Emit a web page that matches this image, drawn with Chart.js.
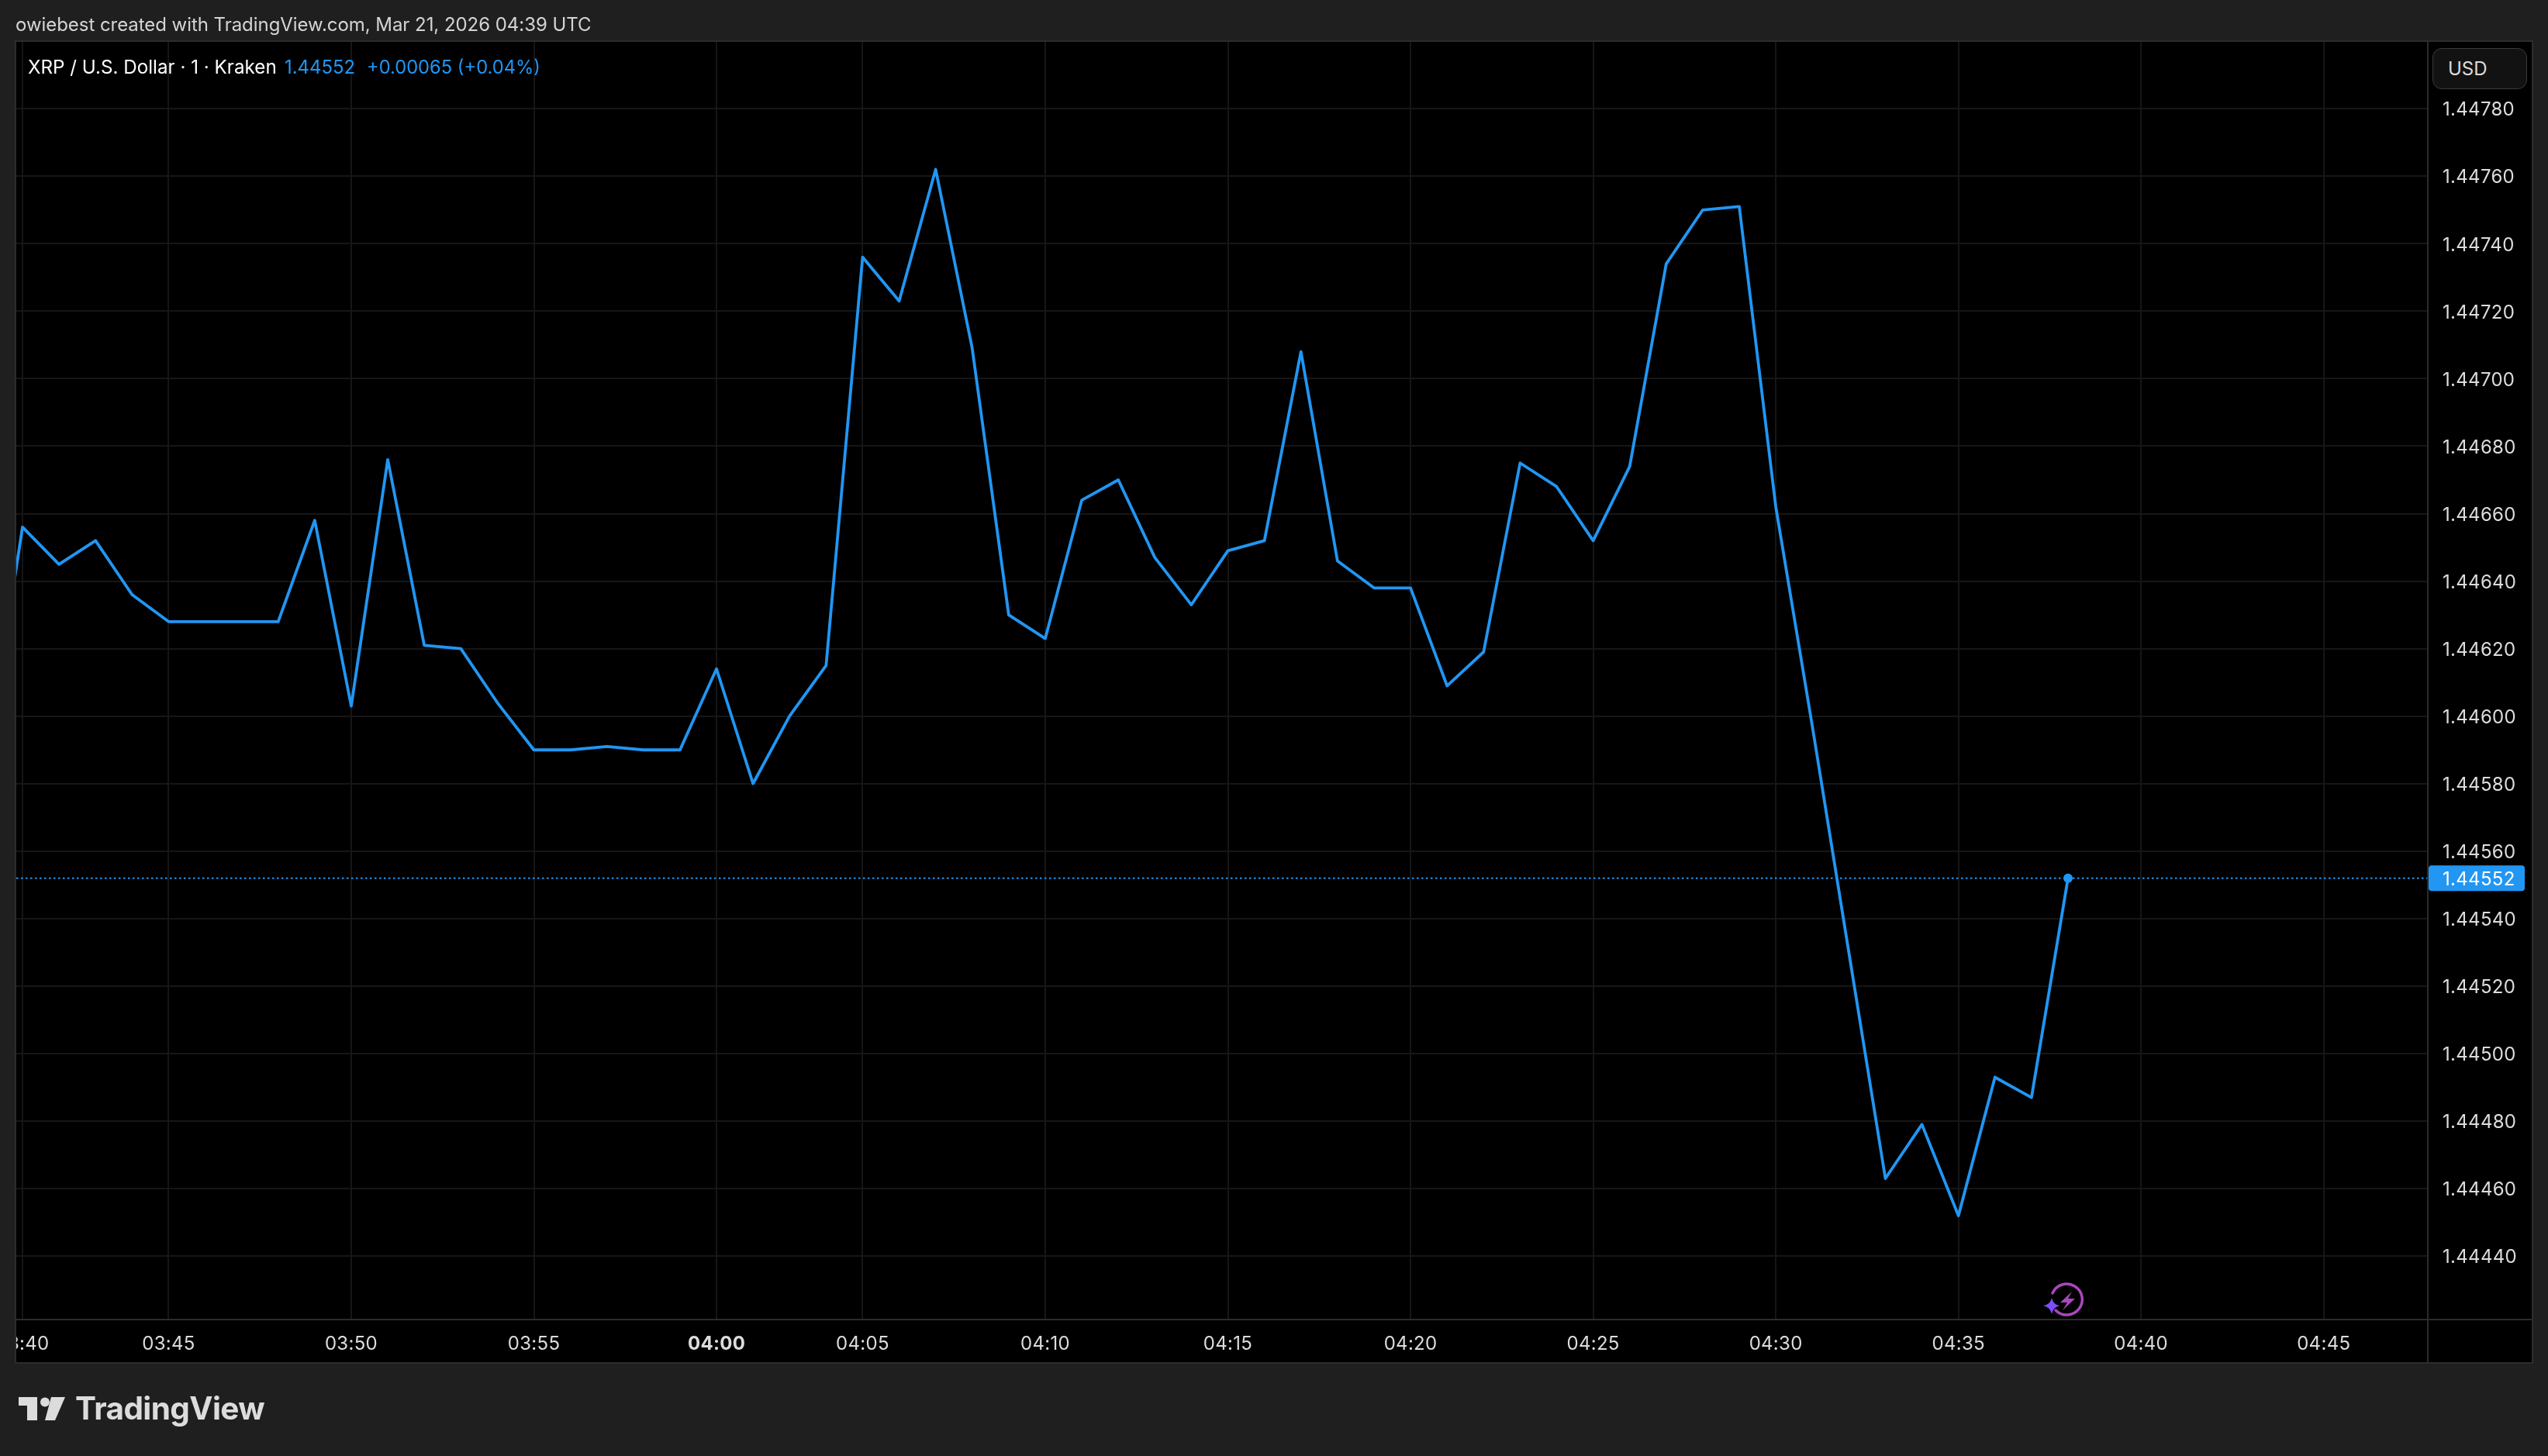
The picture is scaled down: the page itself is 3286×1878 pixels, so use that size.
<!DOCTYPE html>
<html><head><meta charset="utf-8">
<script src="https://cdn.jsdelivr.net/npm/chart.js@4/dist/chart.umd.min.js"></script>
<style>
html,body{margin:0;padding:0;background:#1f1f1f;overflow:hidden}
body{width:3286px;height:1878px;position:relative;font-family:Inter,"Noto Sans",sans-serif}
#panel{position:absolute;left:21px;top:54px;width:3244px;height:1703px;background:#000}
canvas{position:absolute;left:0;top:0}
.t{position:absolute;white-space:nowrap;line-height:1}
</style></head><body>
<div id="panel"></div>
<canvas id="c" width="3286" height="1878" style="width:3286px;height:1878px"></canvas>
<div class="t" style="left:20px;top:20px;font-size:24px;color:#d4d4d4;letter-spacing:-0.05px">owiebest created with TradingView.com, Mar 21, 2026 04:39 UTC</div>
<div class="t" style="left:36px;top:75px;font-size:24.2px;color:#fff">XRP / U.S. Dollar · 1 · Kraken</div>
<div class="t" style="left:367px;top:75px;font-size:23.9px;color:#2196f3">1.44552</div>
<div class="t" style="left:473px;top:75px;font-size:23.7px;color:#2196f3">+0.00065 (+0.04%)</div>
<div style="position:absolute;left:3137px;top:62px;width:120px;height:51px;border:1px solid #3a3a3a;border-radius:12px;background:#121212"></div>
<div class="t" style="left:3157px;top:77px;font-size:24px;color:#dbdbdb">USD</div>
<svg style="position:absolute;left:2620px;top:1640px" width="80" height="70" viewBox="0 0 80 70">
<path d="M31 50 A20 20 0 1 0 27 28" fill="none" stroke="#ab47bc" stroke-width="3.5" stroke-linecap="round"/>
<path d="M52 26 L37 40 L46 40 L40 50 L56 35 L47 35 Z" fill="#ab47bc"/>
<path d="M26 34 Q28 43 36 44 Q28 46 26 55 Q24 46 15 44 Q24 43 26 34 Z" fill="#7c4dff"/>
</svg>
<svg style="position:absolute;left:24px;top:1802px" width="60" height="30" viewBox="0 0 60 30">
<path d="M0 0 H24 V30 H11 V11 H0 Z" fill="#dcdcdc"/>
<circle cx="34" cy="6.5" r="6" fill="#dcdcdc"/>
<path d="M42 0 H60 L47 30 H34 Z" fill="#dcdcdc"/>
</svg>
<div class="t" style="left:97px;top:1797px;font-size:40.5px;font-weight:700;color:#dcdcdc;letter-spacing:-0.6px">TradingView</div>
<script>
const barTimes = ["03:39","03:40","03:42","03:43","03:44","03:45","03:46","03:47","03:48","03:49","03:50","03:51","03:52","03:53","03:54","03:55","03:56","03:57","03:58","03:59","04:00","04:01","04:02","04:03","04:05","04:06","04:07","04:08","04:09","04:10","04:11","04:12","04:13","04:14","04:15","04:16","04:17","04:18","04:19","04:20","04:21","04:22","04:23","04:24","04:25","04:26","04:27","04:28","04:29","04:30","04:31","04:32","04:33","04:34","04:35","04:36","04:37","04:38"];
const futureTimes = ["04:39","04:40","04:41","04:42","04:43","04:44","04:45","04:46","04:47"];
const closes = [1.44585,1.44656,1.44645,1.44652,1.44636,1.44628,1.44628,1.44628,1.44628,1.44658,1.44603,1.44676,1.44621,1.44620,1.44604,1.44590,1.44590,1.44591,1.44590,1.44590,1.44614,1.44580,1.44600,1.44615,1.44736,1.44723,1.44762,1.44709,1.44630,1.44623,1.44664,1.44670,1.44647,1.44633,1.44649,1.44652,1.44708,1.44646,1.44638,1.44638,1.44609,1.44619,1.44675,1.44668,1.44652,1.44674,1.44734,1.44750,1.44751,1.44662,1.44597,1.44530,1.44463,1.44479,1.44452,1.44493,1.44487,1.44552];
const priceTicks = [1.4444,1.4446,1.4448,1.4450,1.4452,1.4454,1.4456,1.4458,1.4460,1.4462,1.4464,1.4466,1.4468,1.4470,1.4472,1.4474,1.4476,1.4478];
const lastPrice = 1.44552;
const lastPriceLabel = "1.44552";
const boldTime = "04:00";

const BLUE = "#2196f3", TXT = "#dcdcdc", GRID = "#161616", FRAME = "#2c2c2c", BG = "#1f1f1f";
const FONT = 'Inter, "Noto Sans", sans-serif';
const allTimes = barTimes.concat(futureTimes);
const series = closes.map((y, i) => ({x: i, y}));
const minX = 0.83, maxX = 66.85, minY = 1.444212, maxY = 1.447998;

const decor = {
  id: "decor",
  beforeDraw(chart) { chart.ctx.letterSpacing = "0.3px"; },
  afterDraw(chart) {
    const {ctx, chartArea: a, scales} = chart;
    ctx.save();
    const py = scales.y.getPixelForValue(lastPrice);
    ctx.fillStyle = BLUE;
    ctx.beginPath();
    ctx.roundRect(a.right + 1, py - 16.5, 124, 33, 4);
    ctx.fill();
    ctx.fillStyle = "#fff";
    ctx.font = "24px " + FONT;
    ctx.textBaseline = "middle";
    ctx.textAlign = "left";
    ctx.fillText(lastPriceLabel, a.right + 19, py + 2);
    ctx.fillStyle = BG;
    ctx.fillRect(0, a.top, 20, 1710);
    ctx.strokeStyle = FRAME;
    ctx.lineWidth = 2;
    ctx.strokeRect(20, 53, 3246, 1705);
    ctx.beginPath();
    ctx.moveTo(a.right, 53); ctx.lineTo(a.right, 1757);
    ctx.moveTo(20, a.bottom); ctx.lineTo(3266, a.bottom);
    ctx.stroke();
    ctx.restore();
  }
};

new Chart(document.getElementById("c"), {
  type: "line",
  data: { datasets: [
    { data: series, borderColor: BLUE, borderWidth: 3.8, tension: 0, borderJoinStyle: "round",
      pointRadius: c => c.dataIndex === closes.length - 1 ? 6 : 0,
      pointBackgroundColor: BLUE, pointBorderWidth: 0 },
    { data: [{x: minX, y: lastPrice}, {x: maxX, y: lastPrice}], borderColor: BLUE, borderWidth: 2,
      borderDash: [2.5, 3.5], pointRadius: 0, tension: 0 }
  ]},
  options: {
    responsive: false, animation: false, parsing: false,
    layout: { padding: { left: 21, top: 54, right: 21, bottom: 121 } },
    plugins: { legend: { display: false }, title: { display: false }, tooltip: { enabled: false } },
    scales: {
      x: {
        type: "linear", min: minX, max: maxX,
        afterBuildTicks: s => {
          s.ticks = allTimes.map((t, i) => ({t, i}))
            .filter(o => /[05]$/.test(o.t)).map(o => ({value: o.i}));
        },
        afterFit: s => { s.height = 55; s.paddingLeft = 0; s.paddingRight = 0; },
        grid: { color: GRID, lineWidth: 2, drawTicks: false },
        border: { display: false },
        ticks: {
          autoSkip: false, maxRotation: 0, minRotation: 0, padding: 17, color: TXT,
          font: c => ({ family: FONT, size: 24, weight: allTimes[c.tick && c.tick.value] === boldTime ? "700" : "400" }),
          callback: v => allTimes[v]
        }
      },
      y: {
        position: "right", min: minY, max: maxY,
        afterBuildTicks: s => { s.ticks = priceTicks.map(value => ({value})); },
        afterFit: s => { s.width = 134; s.paddingTop = 0; s.paddingBottom = 0; },
        grid: { color: GRID, lineWidth: 2, drawTicks: false },
        border: { display: false },
        ticks: {
          padding: 19, color: TXT, crossAlign: "near", autoSkip: false, labelOffset: 2,
          font: { family: FONT, size: 24 },
          callback: v => v.toFixed(5)
        }
      }
    }
  },
  plugins: [decor]
});
</script>
</body></html>
